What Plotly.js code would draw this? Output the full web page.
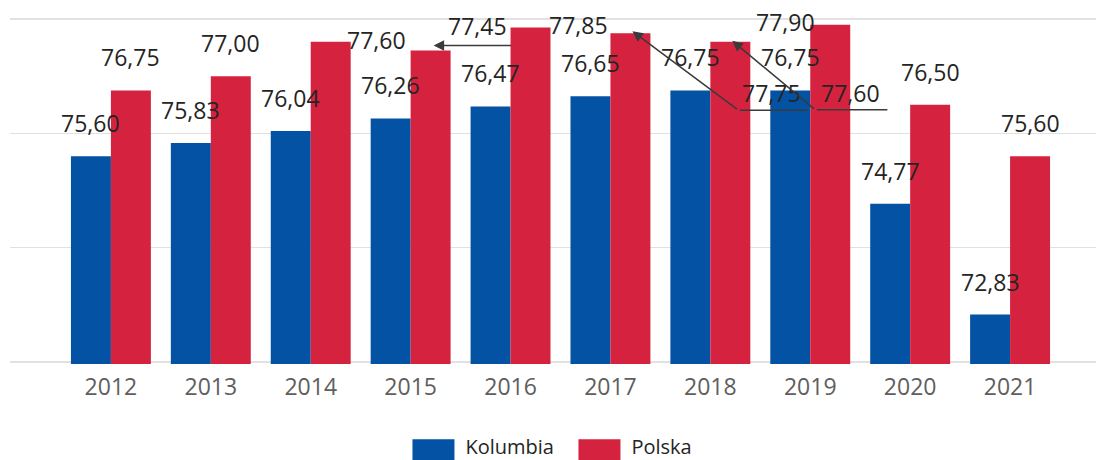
<!DOCTYPE html>
<html>
<head>
<meta charset="utf-8">
<script src="https://cdn.plot.ly/plotly-3.0.1.min.js"></script>
<style>
html,body{margin:0;padding:0;background:#fff;}
#chart{width:1096px;height:460px;}
</style>
</head>
<body>
<div id="chart"></div>
<script>
// ---- data ----
const years = ['2012','2013','2014','2015','2016','2017','2018','2019','2020','2021'];
const kolumbia = [75.60, 75.83, 76.04, 76.26, 76.47, 76.65, 76.75, 76.75, 74.77, 72.83];
const polska   = [76.75, 77.00, 77.60, 77.45, 77.85, 77.75, 77.60, 77.90, 76.50, 75.60];
const seriesNames = ['Kolumbia', 'Polska'];

// ---- styling / label placement (pixels) ----
const COLORS = ['#0352A3', '#D5223F'];
const FONT = '"Segoe UI", "Open Sans", sans-serif';
const LABEL_COLOR = '#252423';
const DEFAULT_SHIFT = [0, 33];
// Polska labels moved by the original layout to avoid overlaps: index -> [dx, dy]
const polskaShift = {2: [46, 2], 3: [47, 24], 4: [48, 3], 5: [141, -60], 6: [120, -51], 7: [-45, 3]};
// leader lines: head offset from bar top, tail (elbow) offset from head, underline length
const callouts = [
  {i: 3, head: [3, 5], tail: [79, 0], underline: 0},
  {i: 5, head: [2, 2], tail: [106, 79], underline: 69},
  {i: 6, head: [2, 1], tail: [83, 69], underline: 72}
];

const fmt = v => v.toFixed(2).replace('.', ',');
const idx = years.map((_, i) => i);
const series = [kolumbia, polska];
const OFFSET = [-0.2, 0.2];

const traces = series.map((vals, s) => ({
  type: 'bar',
  name: seriesNames[s],
  x: idx,
  y: vals,
  marker: {color: COLORS[s], line: {width: 0}},
  hoverinfo: 'none'
}));

const annotations = [];
series.forEach((vals, s) => {
  vals.forEach((v, i) => {
    let sh = DEFAULT_SHIFT;
    if (s === 1 && polskaShift[i]) sh = polskaShift[i];
    annotations.push({
      x: i + OFFSET[s], y: v, xref: 'x', yref: 'y',
      text: fmt(v), showarrow: false,
      xshift: sh[0], yshift: sh[1],
      xanchor: 'center', yanchor: 'middle',
      font: {family: FONT, size: 23, color: LABEL_COLOR}
    });
  });
});
callouts.forEach(c => {
  const x = c.i + OFFSET[1], y = polska[c.i];
  annotations.push({
    x: x, y: y, xref: 'x', yref: 'y', text: '',
    showarrow: true, arrowhead: 2, arrowsize: 1.4, arrowwidth: 1.5, arrowcolor: '#3a3a3a',
    xshift: c.head[0], yshift: c.head[1], ax: c.tail[0], ay: c.tail[1]
  });
  if (c.underline > 0) {
    annotations.push({
      x: x, y: y, xref: 'x', yref: 'y', text: '',
      showarrow: true, arrowhead: 0, arrowwidth: 1.5, arrowcolor: '#3a3a3a',
      xshift: c.head[0] + c.tail[0] + c.underline, yshift: c.head[1] - c.tail[1],
      ax: -c.underline, ay: 0
    });
  }
});

const layout = {
  width: 1096, height: 460,
  margin: {l: 10, r: 0, t: 17, b: 96, autoexpand: false},
  paper_bgcolor: '#ffffff', plot_bgcolor: '#ffffff',
  font: {family: FONT, color: '#605E5C'},
  barmode: 'group', bargap: 0.2, bargroupgap: 0,
  xaxis: {
    range: [-1.01, 9.86], tickvals: idx, ticktext: years,
    showgrid: false, zeroline: false, showline: false, ticks: '',
    ticklabelstandoff: 7,
    tickfont: {family: FONT, size: 23, color: '#605E5C'}, fixedrange: true
  },
  yaxis: {
    range: [71.965, 78.035], dtick: 2, tick0: 72, showticklabels: false,
    showgrid: true, gridcolor: '#E1E1E1', gridwidth: 1.5,
    zeroline: false, showline: false, ticks: '', fixedrange: true
  },
  showlegend: true,
  legend: {
    orientation: 'h', x: 0.517, xanchor: 'center', y: -0.181, yanchor: 'top',
    font: {family: FONT, size: 20, color: '#252423'},
    itemwidth: 50, entrywidth: 101, traceorder: 'normal'
  },
  annotations: annotations
};

Plotly.newPlot('chart', traces, layout, {displayModeBar: false, staticPlot: true}).then(gd => {
  gd.querySelectorAll('.legend .legendpoints path').forEach(p => {
    p.setAttribute('d', 'M19,14H-23V-7H19Z');
  });
});
</script>
</body>
</html>
